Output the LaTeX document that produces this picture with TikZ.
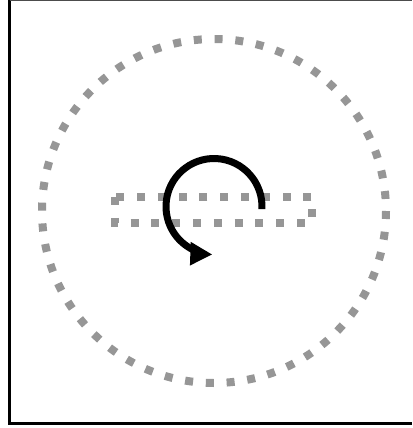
\documentclass[tikz,border=0pt]{standalone}
\usetikzlibrary{arrows.meta,calc}
\definecolor{dotgray}{RGB}{150,150,150}
\tikzset{
  dotline/.style={draw=dotgray, line width=8pt, dash pattern=on 8pt off 12.8pt},
  spinarrow/.style={draw=black, line width=7pt, -{Triangle[length=22pt,width=22pt]}}
}
\begin{document}
\begin{tikzpicture}[x=1pt,y=-1pt]
\useasboundingbox (0,0) rectangle (412,428);
\fill[white] (0,0) rectangle (412,428);
% frame
\draw[line width=3.5pt] (9.5,0) -- (9.5,423.5) -- (412,423.5);
\draw[line width=1pt, black!70] (9.5,0.5) -- (412,0.5);
% big dotted circle
\coordinate (c) at (214,211);
\draw[dotline] (c) circle [radius=172];
% dotted rectangle
\coordinate (r1) at (115,197);
\coordinate (r2) at (312,223);
\draw[dotline] (r1) rectangle (r2);
% rotation arrow
\coordinate (ac) at (214,206.5);
\draw[spinarrow] ($(ac)+(3:48)$) arc [start angle=3, end angle=-268, radius=48];
\end{tikzpicture}
\end{document}
